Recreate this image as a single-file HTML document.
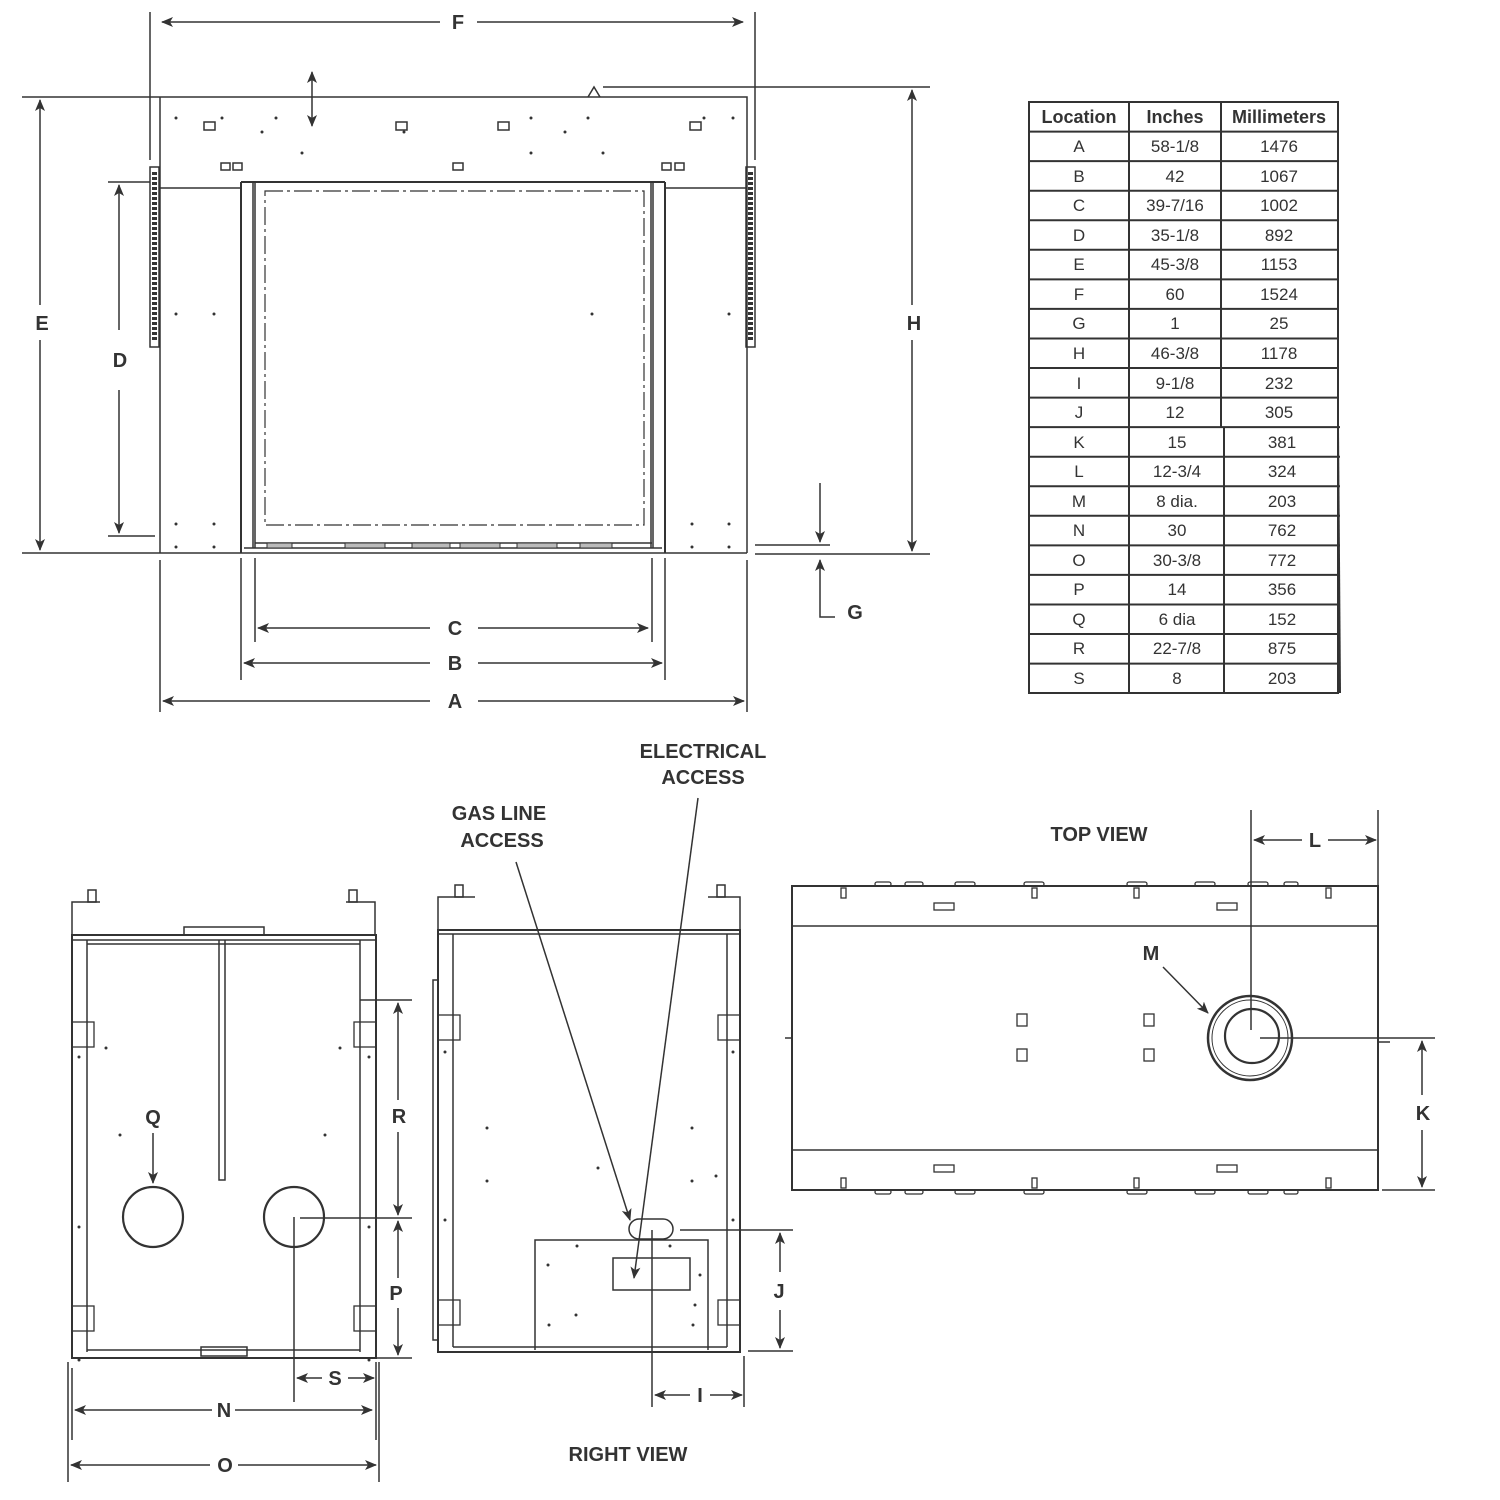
<!DOCTYPE html>
<html><head><meta charset="utf-8"><style>
html,body{margin:0;padding:0;background:#fff}
svg{display:block}
text{font-family:"Liberation Sans",Arial,sans-serif;fill:#333}
.lb{font-weight:bold;font-size:20px}
.t{font-size:17px}
</style></head><body>
<svg width="1500" height="1500" viewBox="0 0 1500 1500" xmlns="http://www.w3.org/2000/svg">
<defs>
<marker id="a" viewBox="0 0 12 10" refX="11" refY="5" markerWidth="12" markerHeight="10" markerUnits="userSpaceOnUse" orient="auto-start-reverse"><path d="M0,0 L12,5 L0,10 L3,5 z" fill="#333"/></marker>
</defs>
<g stroke="#333" stroke-width="1.5" fill="none">
<!-- ===== FRONT VIEW ===== -->
<!-- top band -->
<path d="M22,97 H747 V188 M160,97 V553 M747,97 V553"/>
<path d="M160,188 H241 M665,188 H747"/>
<line x1="160" y1="553" x2="747" y2="553"/>
<!-- side strips -->
<rect x="150" y="167" width="9" height="180"/>
<rect x="746" y="167" width="9" height="180"/>
<!-- firebox frame -->
<path d="M241,182 V553 M665,182 V553 M241,182 H665" stroke-width="2"/>
<path d="M253,182 V548 M255,182 V548 M651,182 V548 M653,182 V548" stroke-width="1.5"/>
<path d="M255,543 H652 M244,548 H662"/>
<rect x="265" y="191" width="379" height="334" stroke-dasharray="18,4,3,4" stroke-width="1.2"/>
<!-- bottom grates -->
<g fill="#bbb" stroke-width="1"><rect x="267" y="543" width="25" height="5"/><rect x="345" y="543" width="40" height="5"/><rect x="412" y="543" width="38" height="5"/><rect x="460" y="543" width="40" height="5"/><rect x="517" y="543" width="40" height="5"/><rect x="580" y="543" width="32" height="5"/></g>
<!-- top band small rects -->
<g stroke-width="1.5"><rect x="204" y="122" width="11" height="8"/><rect x="396" y="122" width="11" height="8"/><rect x="498" y="122" width="11" height="8"/><rect x="690" y="122" width="11" height="8"/>
<rect x="221" y="163" width="9" height="7"/><rect x="233" y="163" width="9" height="7"/><rect x="453" y="163" width="10" height="7"/><rect x="662" y="163" width="9" height="7"/><rect x="675" y="163" width="9" height="7"/></g>
<!-- F -->
<line x1="150" y1="12" x2="150" y2="160"/><line x1="755" y1="12" x2="755" y2="160"/>
<line x1="162" y1="22" x2="440" y2="22" marker-start="url(#a)"/>
<line x1="477" y1="22" x2="743" y2="22" marker-end="url(#a)"/>
<!-- G double arrow small -->
<line x1="312" y1="72" x2="312" y2="126" marker-start="url(#a)" marker-end="url(#a)"/>
<path d="M588,97 L594,87 L600,97"/>
<!-- E -->
<line x1="22" y1="553" x2="160" y2="553"/>
<line x1="40" y1="100" x2="40" y2="305" marker-start="url(#a)"/>
<line x1="40" y1="340" x2="40" y2="550" marker-end="url(#a)"/>
<!-- D -->
<line x1="108" y1="182" x2="150" y2="182"/><line x1="108" y1="536" x2="155" y2="536"/>
<line x1="119" y1="185" x2="119" y2="330" marker-start="url(#a)"/>
<line x1="119" y1="390" x2="119" y2="533" marker-end="url(#a)"/>
<!-- H -->
<line x1="603" y1="87" x2="930" y2="87"/>
<line x1="755" y1="554" x2="930" y2="554"/>
<line x1="912" y1="90" x2="912" y2="305" marker-start="url(#a)"/>
<line x1="912" y1="340" x2="912" y2="551" marker-end="url(#a)"/>
<!-- G -->
<line x1="755" y1="545" x2="830" y2="545"/>
<line x1="820" y1="483" x2="820" y2="542" marker-end="url(#a)"/>
<path d="M835,617 H820 V560" marker-end="url(#a)"/>
<!-- C B A -->
<line x1="255" y1="558" x2="255" y2="642"/><line x1="652" y1="558" x2="652" y2="642"/>
<line x1="241" y1="558" x2="241" y2="680"/><line x1="665" y1="558" x2="665" y2="680"/>
<line x1="160" y1="560" x2="160" y2="712"/><line x1="747" y1="560" x2="747" y2="712"/>
<line x1="258" y1="628" x2="430" y2="628" marker-start="url(#a)"/><line x1="478" y1="628" x2="648" y2="628" marker-end="url(#a)"/>
<line x1="244" y1="663" x2="430" y2="663" marker-start="url(#a)"/><line x1="478" y1="663" x2="662" y2="663" marker-end="url(#a)"/>
<line x1="163" y1="701" x2="430" y2="701" marker-start="url(#a)"/><line x1="478" y1="701" x2="744" y2="701" marker-end="url(#a)"/>

<!-- ===== LEFT (BACK) VIEW ===== -->
<path d="M72,935 V902 H100 M346,902 H375 V935"/>
<rect x="88" y="890" width="8" height="12"/><rect x="349" y="890" width="8" height="12"/>
<rect x="72" y="935" width="304" height="423" stroke-width="2"/>
<path d="M87,940 V1352 M360,940 V1352 M72,940 H376 M87,944 H360 M87,1350 H360" />
<rect x="184" y="927" width="80" height="8"/>
<rect x="201" y="1347" width="46" height="9"/>
<path d="M219,940 V1180 H225 V940"/>
<g stroke-width="1.3"><rect x="72" y="1022" width="22" height="25"/><rect x="354" y="1022" width="22" height="25"/><rect x="72" y="1306" width="22" height="25"/><rect x="354" y="1306" width="22" height="25"/></g>
<ellipse cx="153" cy="1217" rx="30" ry="30" stroke-width="2.2"/>
<ellipse cx="294" cy="1217" rx="30" ry="30" stroke-width="2.2"/>
<line x1="153" y1="1133" x2="153" y2="1183" marker-end="url(#a)"/>
<!-- R P -->
<line x1="360" y1="1000" x2="412" y2="1000"/>
<line x1="300" y1="1218" x2="412" y2="1218"/>
<line x1="360" y1="1358" x2="412" y2="1358"/>
<line x1="398" y1="1003" x2="398" y2="1100" marker-start="url(#a)"/>
<line x1="398" y1="1132" x2="398" y2="1215" marker-end="url(#a)"/>
<line x1="398" y1="1221" x2="398" y2="1278" marker-start="url(#a)"/>
<line x1="398" y1="1308" x2="398" y2="1355" marker-end="url(#a)"/>
<!-- S N O -->
<line x1="294" y1="1217" x2="294" y2="1402"/>
<line x1="376" y1="1362" x2="376" y2="1440"/><line x1="72" y1="1368" x2="72" y2="1440"/>
<line x1="68" y1="1362" x2="68" y2="1482"/><line x1="379" y1="1362" x2="379" y2="1482"/>
<line x1="297" y1="1378" x2="322" y2="1378" marker-start="url(#a)"/><line x1="348" y1="1378" x2="374" y2="1378" marker-end="url(#a)"/>
<line x1="75" y1="1410" x2="212" y2="1410" marker-start="url(#a)"/><line x1="235" y1="1410" x2="372" y2="1410" marker-end="url(#a)"/>
<line x1="71" y1="1465" x2="210" y2="1465" marker-start="url(#a)"/><line x1="238" y1="1465" x2="376" y2="1465" marker-end="url(#a)"/>

<!-- ===== RIGHT VIEW ===== -->
<path d="M438,930 V897 H475 M708,897 H740 V930"/>
<rect x="455" y="885" width="8" height="12"/><rect x="717" y="885" width="8" height="12"/>
<rect x="438" y="930" width="302" height="422" stroke-width="2"/>
<path d="M453,934 V1347 M727,934 V1347 M438,934 H740 M453,1347 H727"/>
<rect x="433" y="980" width="5" height="360"/>
<g stroke-width="1.3"><rect x="438" y="1015" width="22" height="25"/><rect x="718" y="1015" width="22" height="25"/><rect x="438" y="1300" width="22" height="25"/><rect x="718" y="1300" width="22" height="25"/></g>
<path d="M535,1350 V1240 H708 V1350"/>
<rect x="613" y="1258" width="77" height="32"/>
<rect x="629" y="1219" width="44" height="20" rx="10"/>
<line x1="516" y1="862" x2="630" y2="1220" marker-end="url(#a)"/>
<line x1="698" y1="798" x2="634" y2="1278" marker-end="url(#a)"/>
<!-- I J -->
<line x1="652" y1="1230" x2="652" y2="1407"/><line x1="744" y1="1356" x2="744" y2="1407"/>
<line x1="655" y1="1395" x2="690" y2="1395" marker-start="url(#a)"/><line x1="710" y1="1395" x2="742" y2="1395" marker-end="url(#a)"/>
<line x1="680" y1="1230" x2="793" y2="1230"/><line x1="748" y1="1351" x2="793" y2="1351"/>
<line x1="780" y1="1233" x2="780" y2="1272" marker-start="url(#a)"/>
<line x1="780" y1="1310" x2="780" y2="1348" marker-end="url(#a)"/>

<!-- ===== TOP VIEW ===== -->
<rect x="792" y="886" width="586" height="304" stroke-width="2"/>
<line x1="792" y1="926" x2="1378" y2="926"/><line x1="792" y1="1150" x2="1378" y2="1150"/>
<g stroke-width="1.3">
<rect x="875" y="882" width="16" height="4" rx="2"/><rect x="905" y="882" width="18" height="4" rx="2"/><rect x="955" y="882" width="20" height="4" rx="2"/><rect x="1024" y="882" width="20" height="4" rx="2"/><rect x="1127" y="882" width="20" height="4" rx="2"/><rect x="1195" y="882" width="20" height="4" rx="2"/><rect x="1248" y="882" width="20" height="4" rx="2"/><rect x="1284" y="882" width="14" height="4" rx="2"/>
<rect x="875" y="1190" width="16" height="4" rx="2"/><rect x="905" y="1190" width="18" height="4" rx="2"/><rect x="955" y="1190" width="20" height="4" rx="2"/><rect x="1024" y="1190" width="20" height="4" rx="2"/><rect x="1127" y="1190" width="20" height="4" rx="2"/><rect x="1195" y="1190" width="20" height="4" rx="2"/><rect x="1248" y="1190" width="20" height="4" rx="2"/><rect x="1284" y="1190" width="14" height="4" rx="2"/>
<rect x="841" y="888" width="5" height="10"/><rect x="1032" y="888" width="5" height="10"/><rect x="1134" y="888" width="5" height="10"/><rect x="1326" y="888" width="5" height="10"/>
<rect x="841" y="1178" width="5" height="10"/><rect x="1032" y="1178" width="5" height="10"/><rect x="1134" y="1178" width="5" height="10"/><rect x="1326" y="1178" width="5" height="10"/>
<rect x="934" y="903" width="20" height="7"/><rect x="1217" y="903" width="20" height="7"/><rect x="934" y="1165" width="20" height="7"/><rect x="1217" y="1165" width="20" height="7"/>
<rect x="1017" y="1014" width="10" height="12"/><rect x="1017" y="1049" width="10" height="12"/><rect x="1144" y="1014" width="10" height="12"/><rect x="1144" y="1049" width="10" height="12"/>
</g>
<line x1="785" y1="1038" x2="792" y2="1038"/><line x1="1378" y1="1042" x2="1390" y2="1042"/>
<ellipse cx="1250" cy="1038" rx="42" ry="42" stroke-width="2.5"/>
<ellipse cx="1250" cy="1038" rx="38" ry="38" stroke-width="1"/>
<ellipse cx="1252" cy="1036" rx="27" ry="27" stroke-width="2.2"/>
<line x1="1163" y1="967" x2="1208" y2="1013" marker-end="url(#a)"/>
<!-- L -->
<line x1="1251" y1="810" x2="1251" y2="1030"/><line x1="1378" y1="810" x2="1378" y2="886"/>
<line x1="1254" y1="840" x2="1302" y2="840" marker-start="url(#a)"/><line x1="1328" y1="840" x2="1376" y2="840" marker-end="url(#a)"/>
<!-- K -->
<line x1="1260" y1="1038" x2="1435" y2="1038"/><line x1="1382" y1="1190" x2="1435" y2="1190"/>
<line x1="1422" y1="1041" x2="1422" y2="1095" marker-start="url(#a)"/>
<line x1="1422" y1="1130" x2="1422" y2="1187" marker-end="url(#a)"/>

<!-- ===== TABLE ===== -->
<g stroke-width="2">
<rect x="1029" y="102" width="309" height="591"/>
<line x1="1129" y1="102" x2="1129" y2="693"/><line x1="1221" y1="102" x2="1221" y2="427"/><line x1="1224" y1="427" x2="1224" y2="693"/>
<line x1="1338" y1="427" x2="1340" y2="693"/>
<path d="M1029,131.6H1338 M1029,161.1H1338 M1029,190.7H1338 M1029,220.2H1338 M1029,249.8H1338 M1029,279.4H1338 M1029,308.9H1338 M1029,338.5H1338 M1029,368H1338 M1029,397.6H1338 M1029,427.1H1340 M1029,456.7H1340 M1029,486.3H1340 M1029,515.8H1340 M1029,545.4H1340 M1029,574.9H1340 M1029,604.5H1340 M1029,634H1340 M1029,663.6H1340"/>
</g>
</g>
<!-- table text -->
<g class="t" text-anchor="middle">
<text x="1079" y="123" font-weight="bold" font-size="18">Location</text><text x="1175" y="123" font-weight="bold" font-size="18">Inches</text><text x="1279" y="123" font-weight="bold" font-size="18">Millimeters</text>
<text x="1079" y="152">A</text><text x="1175" y="152">58-1/8</text><text x="1279" y="152">1476</text>
<text x="1079" y="182">B</text><text x="1175" y="182">42</text><text x="1279" y="182">1067</text>
<text x="1079" y="211">C</text><text x="1175" y="211">39-7/16</text><text x="1279" y="211">1002</text>
<text x="1079" y="241">D</text><text x="1175" y="241">35-1/8</text><text x="1279" y="241">892</text>
<text x="1079" y="270">E</text><text x="1175" y="270">45-3/8</text><text x="1279" y="270">1153</text>
<text x="1079" y="300">F</text><text x="1175" y="300">60</text><text x="1279" y="300">1524</text>
<text x="1079" y="329">G</text><text x="1175" y="329">1</text><text x="1279" y="329">25</text>
<text x="1079" y="359">H</text><text x="1175" y="359">46-3/8</text><text x="1279" y="359">1178</text>
<text x="1079" y="389">I</text><text x="1175" y="389">9-1/8</text><text x="1279" y="389">232</text>
<text x="1079" y="418">J</text><text x="1175" y="418">12</text><text x="1279" y="418">305</text>
<text x="1079" y="448">K</text><text x="1177" y="448">15</text><text x="1282" y="448">381</text>
<text x="1079" y="477">L</text><text x="1177" y="477">12-3/4</text><text x="1282" y="477">324</text>
<text x="1079" y="507">M</text><text x="1177" y="507">8 dia.</text><text x="1282" y="507">203</text>
<text x="1079" y="536">N</text><text x="1177" y="536">30</text><text x="1282" y="536">762</text>
<text x="1079" y="566">O</text><text x="1177" y="566">30-3/8</text><text x="1282" y="566">772</text>
<text x="1079" y="595">P</text><text x="1177" y="595">14</text><text x="1282" y="595">356</text>
<text x="1079" y="625">Q</text><text x="1177" y="625">6 dia</text><text x="1282" y="625">152</text>
<text x="1079" y="654">R</text><text x="1177" y="654">22-7/8</text><text x="1282" y="654">875</text>
<text x="1079" y="684">S</text><text x="1177" y="684">8</text><text x="1282" y="684">203</text>
</g>
<!-- labels -->
<g class="lb" text-anchor="middle">
<text x="458" y="29">F</text>
<text x="42" y="330">E</text>
<text x="120" y="367">D</text>
<text x="914" y="330">H</text>
<text x="855" y="619">G</text>
<text x="455" y="635">C</text>
<text x="455" y="670">B</text>
<text x="455" y="708">A</text>
<text x="703" y="758">ELECTRICAL</text>
<text x="703" y="784">ACCESS</text>
<text x="499" y="820">GAS LINE</text>
<text x="502" y="847">ACCESS</text>
<text x="1099" y="841">TOP VIEW</text>
<text x="1315" y="847">L</text>
<text x="1151" y="960">M</text>
<text x="1423" y="1120">K</text>
<text x="153" y="1124">Q</text>
<text x="399" y="1123">R</text>
<text x="396" y="1300">P</text>
<text x="335" y="1385">S</text>
<text x="224" y="1417">N</text>
<text x="225" y="1472">O</text>
<text x="779" y="1298">J</text>
<text x="700" y="1402">I</text>
<text x="628" y="1461">RIGHT VIEW</text>
</g>
<!-- dots -->
<g fill="#333">
<circle cx="176" cy="118" r="1.5"/><circle cx="222" cy="118" r="1.5"/><circle cx="262" cy="132" r="1.5"/><circle cx="276" cy="118" r="1.5"/><circle cx="302" cy="153" r="1.5"/><circle cx="404" cy="132" r="1.5"/><circle cx="531" cy="118" r="1.5"/><circle cx="565" cy="132" r="1.5"/><circle cx="531" cy="153" r="1.5"/><circle cx="603" cy="153" r="1.5"/><circle cx="588" cy="118" r="1.5"/><circle cx="704" cy="118" r="1.5"/><circle cx="733" cy="118" r="1.5"/>
<circle cx="176" cy="314" r="1.5"/><circle cx="214" cy="314" r="1.5"/><circle cx="592" cy="314" r="1.5"/><circle cx="729" cy="314" r="1.5"/><circle cx="176" cy="524" r="1.5"/><circle cx="214" cy="524" r="1.5"/><circle cx="692" cy="524" r="1.5"/><circle cx="729" cy="524" r="1.5"/><circle cx="176" cy="547" r="1.5"/><circle cx="214" cy="547" r="1.5"/><circle cx="692" cy="547" r="1.5"/><circle cx="729" cy="547" r="1.5"/>
<circle cx="106" cy="1048" r="1.5"/><circle cx="340" cy="1048" r="1.5"/><circle cx="120" cy="1135" r="1.5"/><circle cx="325" cy="1135" r="1.5"/><circle cx="79" cy="1227" r="1.5"/><circle cx="369" cy="1227" r="1.5"/><circle cx="79" cy="1057" r="1.5"/><circle cx="369" cy="1057" r="1.5"/><circle cx="79" cy="1360" r="1.5"/><circle cx="369" cy="1360" r="1.5"/>
<circle cx="487" cy="1128" r="1.5"/><circle cx="692" cy="1128" r="1.5"/><circle cx="487" cy="1181" r="1.5"/><circle cx="692" cy="1181" r="1.5"/><circle cx="598" cy="1168" r="1.5"/><circle cx="716" cy="1176" r="1.5"/><circle cx="445" cy="1220" r="1.5"/><circle cx="733" cy="1220" r="1.5"/><circle cx="445" cy="1052" r="1.5"/><circle cx="733" cy="1052" r="1.5"/>
<circle cx="577" cy="1246" r="1.5"/><circle cx="670" cy="1246" r="1.5"/><circle cx="548" cy="1265" r="1.5"/><circle cx="576" cy="1315" r="1.5"/><circle cx="549" cy="1325" r="1.5"/><circle cx="693" cy="1325" r="1.5"/><circle cx="700" cy="1275" r="1.5"/><circle cx="695" cy="1305" r="1.5"/>
</g>
<!-- perforated strips -->
<g fill="none" stroke="#333" stroke-width="0.9">
<path d="M154.5,172 V342" stroke-dasharray="3,2" stroke-width="5"/>
<path d="M750.5,172 V342" stroke-dasharray="3,2" stroke-width="5"/>
</g>
</svg>
</body></html>
